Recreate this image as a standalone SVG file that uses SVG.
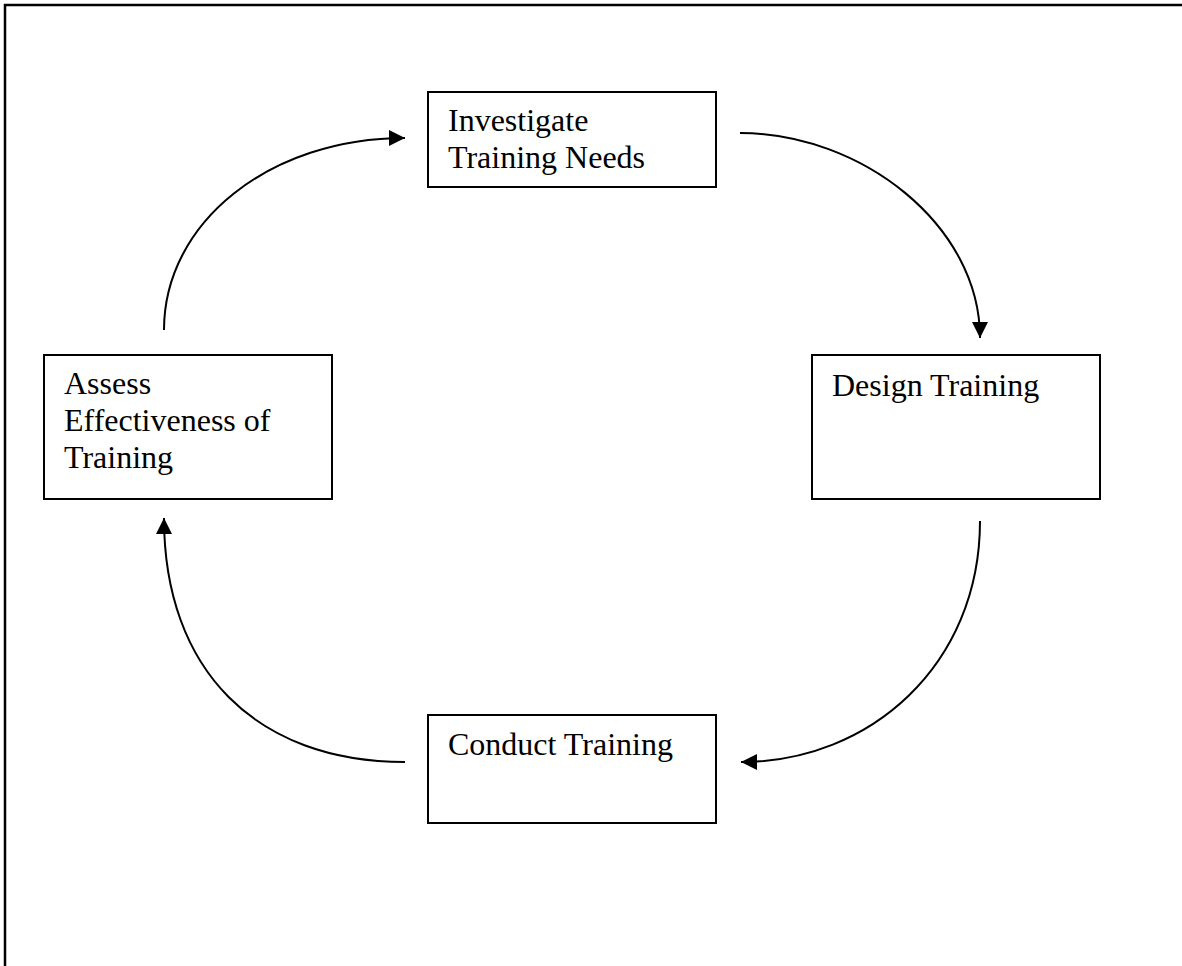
<svg xmlns="http://www.w3.org/2000/svg" width="1182" height="966" viewBox="0 0 1182 966">
<style>
.box{fill:#fff;stroke:#000;stroke-width:2}
.lbl{font-family:"Liberation Serif","Times New Roman",serif;font-size:32px;fill:#000}
.conn{fill:none;stroke:#000;stroke-width:2}
</style>
<defs>
<marker id="ah" markerUnits="userSpaceOnUse" markerWidth="17" markerHeight="17" refX="16" refY="8" orient="auto">
<path d="M0,0 L16,8 L0,16 z" fill="#000"/>
</marker>
</defs>
<rect width="1182" height="966" fill="#fff"/>
<path d="M5,966 L5,5 L1182,5" fill="none" stroke="#000" stroke-width="2.5"/>
<g id="connectors">
<path class="conn" d="M164,330 C164,222 270,138 405,138" marker-end="url(#ah)"/>
<path class="conn" d="M740,133 C861,133 980,225 980,338" marker-end="url(#ah)"/>
<path class="conn" d="M980,521 C980,665 870,762 741,762" marker-end="url(#ah)"/>
<path class="conn" d="M405,762 C256,762 164,670 164,518" marker-end="url(#ah)"/>
</g>
<g id="node-investigate">
<rect class="box" x="428" y="92" width="288" height="95"/>
<text class="lbl" x="448" y="131">Investigate</text>
<text class="lbl" x="448" y="168">Training Needs</text>
</g>
<g id="node-design">
<rect class="box" x="812" y="355" width="288" height="144"/>
<text class="lbl" x="832" y="396">Design Training</text>
</g>
<g id="node-conduct">
<rect class="box" x="428" y="715" width="288" height="108"/>
<text class="lbl" x="448" y="755">Conduct Training</text>
</g>
<g id="node-assess">
<rect class="box" x="44" y="355" width="288" height="144"/>
<text class="lbl" x="64" y="394">Assess</text>
<text class="lbl" x="64" y="431">Effectiveness of</text>
<text class="lbl" x="64" y="468">Training</text>
</g>
</svg>
